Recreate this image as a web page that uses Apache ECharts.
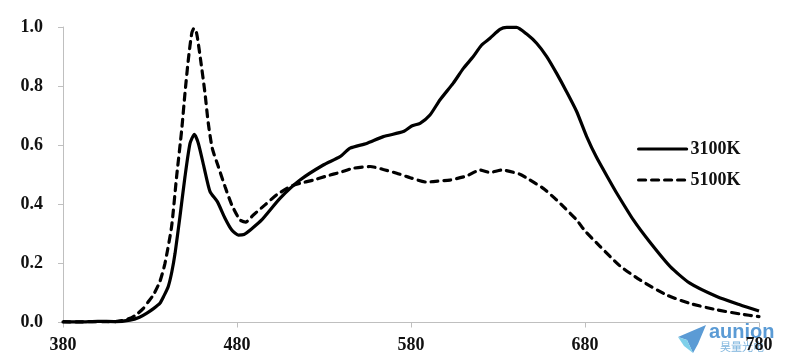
<!DOCTYPE html>
<html><head><meta charset="utf-8">
<style>html,body{margin:0;padding:0;background:#fff}#c{width:786px;height:364px}</style>
<script src="https://cdn.jsdelivr.net/npm/echarts@6/dist/echarts.min.js"></script></head>
<body><div id="c"></div>
<script>
const wl3100=[380,390,400,410,418.5,424,428,432,435.7,438,440.5,442.5,444.4,447.2,450.1,453,455.5,457.8,461,464.5,468.7,473.1,477,480.8,484,488,494.2,504.7,516.2,529.6,539.2,545,554.5,564.1,575.6,580.4,585.2,590.9,596.6,604.3,610.1,615.8,620.6,625.4,631.1,635,640.7,646.5,652.2,658,663.7,669.4,675.2,680.9,686.7,694.3,698,707.8,717,729,740,755.7,769,780];
const v3100=[.003,.002,.004,.003,.008,.018,.031,.047,.065,.09,.122,.17,.234,.358,.493,.606,.637,.606,.527,.443,.409,.353,.313,.296,.298,.315,.347,.42,.482,.533,.561,.59,.606,.629,.646,.665,.674,.702,.753,.81,.86,.9,.939,.962,.992,.999,.999,.976,.945,.9,.843,.781,.714,.63,.558,.478,.44,.347,.274,.189,.134,.088,.06,.039];
const wl5100=[380,390,400,410,418.5,422.5,426.2,429,431.9,435.7,438.6,442.4,445.3,448.2,450.1,452,454,455.3,456.8,459.1,461.6,463.5,465.8,469.3,473.1,477,481.7,485,489.4,496.1,502.8,510.5,516.2,523.9,531.6,539.2,546.9,556.5,564.1,571.8,579.5,589,592.8,602.4,612,619.6,625.4,632.1,642.6,648.4,656,662.7,668.5,675.2,680,688.6,700,711.6,727,740,755.7,769,780];
const v5100=[.002,.002,.003,.003,.014,.028,.048,.07,.093,.139,.2,.324,.494,.651,.776,.888,.979,.996,.979,.888,.776,.674,.589,.527,.46,.398,.347,.34,.364,.398,.432,.46,.471,.482,.496,.508,.522,.528,.518,.505,.49,.475,.477,.482,.496,.516,.508,.516,.502,.482,.454,.42,.387,.347,.31,.258,.192,.144,.093,.065,.043,.029,.02];
const seriesNames=['3100K','5100K'];
const font='"Liberation Serif"';
const pairs=(w,v)=>w.map((x,i)=>[x,v[i]]);
const chart=echarts.init(document.getElementById('c'),null,{renderer:'canvas'});
chart.setOption({
 animation:false,backgroundColor:'#fff',
 grid:{left:63,right:27,top:27,bottom:41.5},
 legend:{orient:'vertical',left:632,top:135,itemWidth:48,itemHeight:14,itemGap:13,
  itemStyle:{color:'transparent',borderColor:'transparent',borderWidth:0},
  lineStyle:{width:3.2,cap:'round'},
  textStyle:{fontFamily:font,fontWeight:'bold',fontSize:18,color:'#111',padding:[0,0,0,-1]},
  data:seriesNames.map(n=>({name:n}))},
 xAxis:{type:'value',min:380,max:780,interval:100,
  axisLine:{lineStyle:{color:'#bfbfbf',width:1}},axisTick:{show:true,length:5,lineStyle:{color:'#bfbfbf'}},splitLine:{show:false},
  axisLabel:{margin:14,fontFamily:font,fontWeight:'bold',fontSize:18,color:'#111'}},
 yAxis:{type:'value',min:0,max:1,interval:0.2,
  axisLine:{show:true,lineStyle:{color:'#bfbfbf',width:1}},axisTick:{show:true,length:5,lineStyle:{color:'#bfbfbf'}},splitLine:{show:false},
  axisLabel:{margin:20,fontFamily:font,fontWeight:'bold',fontSize:18,color:'#111',formatter:v=>v.toFixed(1)}},
 graphic:[
  {type:'polygon',z:0,shape:{points:[[706,325],[678,337],[687,340],[693,353],[698,344]]},style:{fill:'#5b9bd5'}},
  {type:'polygon',z:0,shape:{points:[[678,337],[687,340],[693,353],[684,346]]},style:{fill:'#7fd0ea'}},
  {type:'text',z:0,left:709,top:322,style:{text:'aunion',fontFamily:'"Liberation Sans"',fontWeight:'bold',fontSize:20,fill:'#5b9bd5'}},
  {type:'text',z:0,left:720,top:341,style:{text:'昊量光电',fontFamily:'"Noto Sans CJK SC"',fontSize:11,fill:'#7db4dd'}}
 ],
 series:[
  {name:seriesNames[0],type:'line',z:3,smooth:0.2,showSymbol:false,symbol:'none',clip:false,data:pairs(wl3100,v3100),lineStyle:{color:'#000',width:3.2},itemStyle:{color:'#000'}},
  {name:seriesNames[1],type:'line',z:4,smooth:0.2,showSymbol:false,symbol:'none',clip:false,data:pairs(wl5100,v5100),lineStyle:{color:'#000',width:3.2,type:[7,6],cap:'round'},itemStyle:{color:'#000'}}
 ]
});
</script></body></html>
